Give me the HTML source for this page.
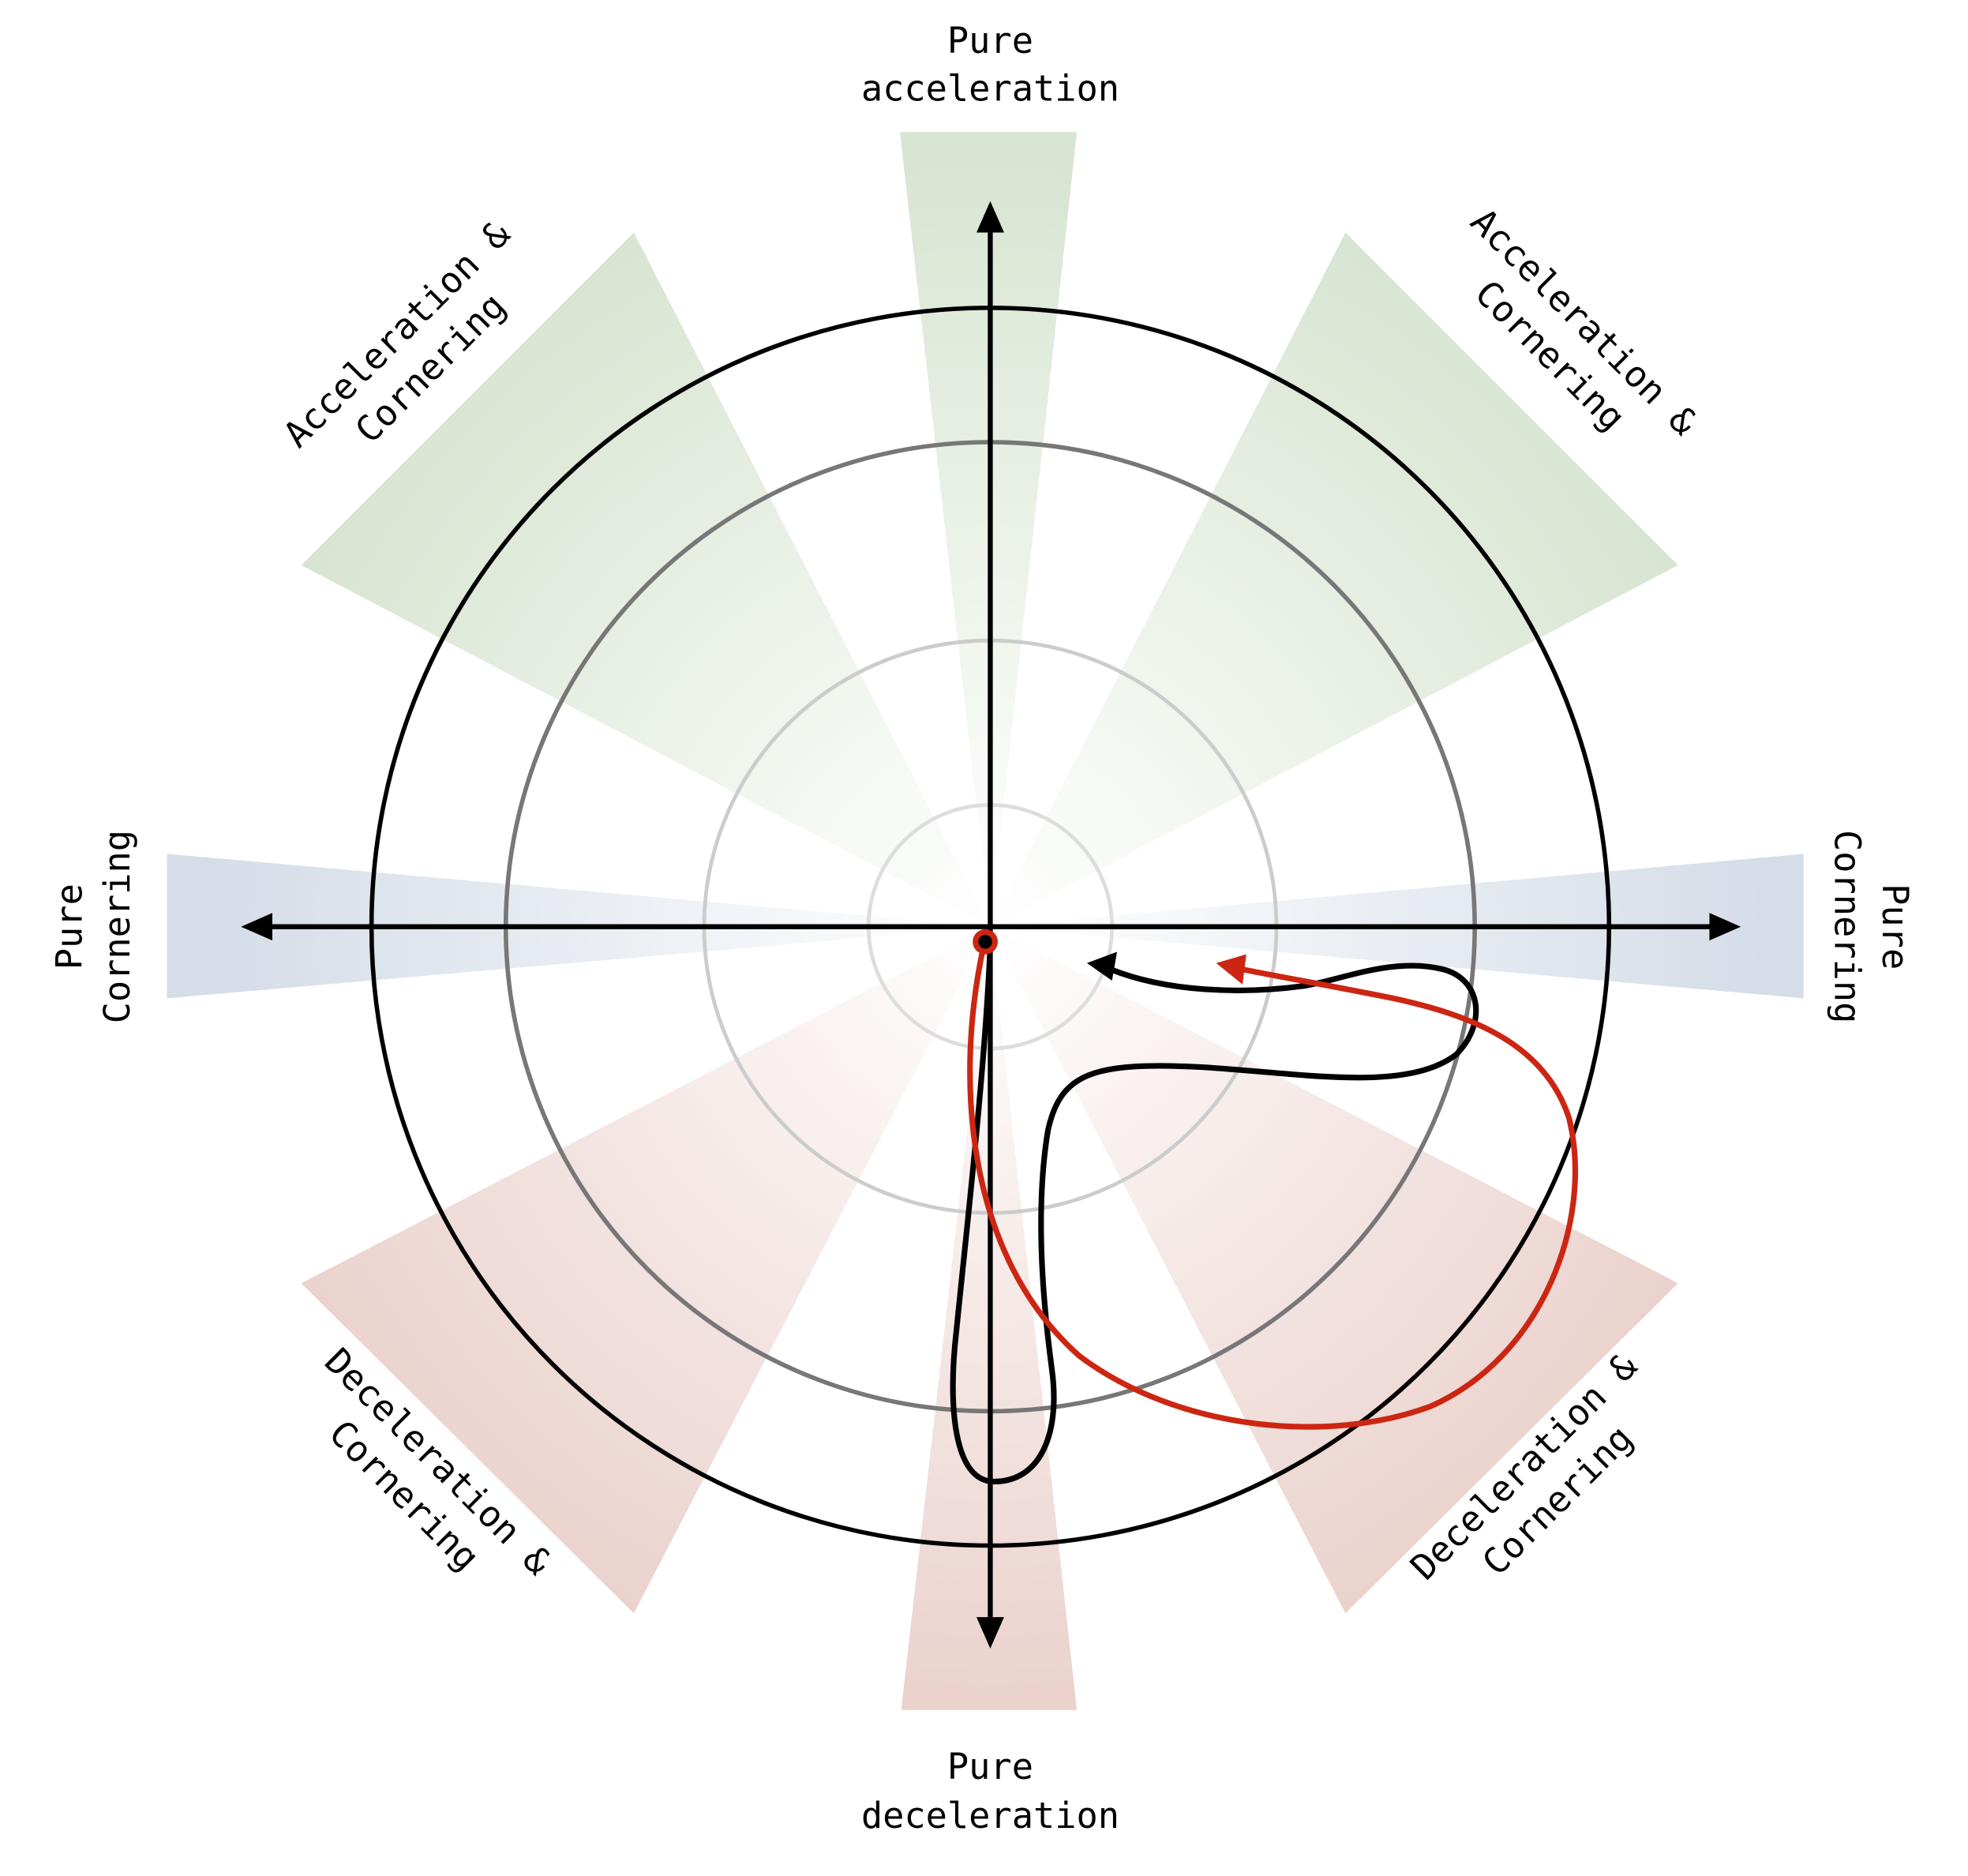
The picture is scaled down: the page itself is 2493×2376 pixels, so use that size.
<!DOCTYPE html>
<html><head><meta charset="utf-8"><style>html,body{margin:0;padding:0;background:#fff}svg{display:block}</style></head><body>
<svg width="2493" height="2376" viewBox="0 0 1568 1494" xmlns="http://www.w3.org/2000/svg" font-family="DejaVu Sans Mono, Liberation Mono, monospace" font-size="28.5" fill="#000">
<defs>
<radialGradient id="g" cx="789" cy="738" r="720" gradientUnits="userSpaceOnUse"><stop offset="0" stop-color="#d8e5d2" stop-opacity="0"/><stop offset="0.85" stop-color="#d8e5d2" stop-opacity="1"/></radialGradient>
<radialGradient id="b" cx="789" cy="738" r="650" gradientUnits="userSpaceOnUse"><stop offset="0" stop-color="#d5dde8" stop-opacity="0"/><stop offset="0.95" stop-color="#d5dde8" stop-opacity="1"/></radialGradient>
<radialGradient id="r" cx="789" cy="738" r="720" gradientUnits="userSpaceOnUse"><stop offset="0" stop-color="#ebd2cd" stop-opacity="0"/><stop offset="0.85" stop-color="#ebd2cd" stop-opacity="1"/></radialGradient>
</defs>
<polygon points="789,738 717,105 858,105" fill="url(#g)"/>
<polygon points="789,738 240,450 505,185" fill="url(#g)"/>
<polygon points="789,738 1072,185 1337,450" fill="url(#g)"/>
<polygon points="789,738 240,1022 505,1285" fill="url(#r)"/>
<polygon points="789,738 1337,1022 1072,1285" fill="url(#r)"/>
<polygon points="789,738 718,1362 858,1362" fill="url(#r)"/>
<polygon points="789,738 133,680 133,795" fill="url(#b)"/>
<polygon points="789,738 1437,680 1437,795" fill="url(#b)"/>
<circle cx="789" cy="738" r="493" fill="none" stroke="#000" stroke-width="3.5"/>
<circle cx="789" cy="738" r="386" fill="none" stroke="#777" stroke-width="3.5"/>
<circle cx="789" cy="738" r="228" fill="none" stroke="#ccc" stroke-width="3"/>
<circle cx="789" cy="738" r="97" fill="none" stroke="#ddd" stroke-width="3"/>
<line x1="789" y1="180" x2="789" y2="1295" stroke="#000" stroke-width="4"/>
<polygon points="789,160 778,185 800,185"/>
<polygon points="789,1313 778,1288 800,1288"/>
<line x1="210" y1="738" x2="1368" y2="738" stroke="#000" stroke-width="4"/>
<polygon points="192,738 217,727 217,749"/>
<polygon points="1387,738 1362,727 1362,749"/>
<path d="M789,752 C785,850 770,980 762,1060 C755,1120 760,1180 792,1180 C830,1180 845,1140 838,1090 C830,1030 825,960 835,900 C845,855 870,845 960,850 C1040,855 1120,870 1160,840 C1185,815 1180,780 1150,772 C1110,762 1070,780 1040,785 C990,792 930,790 885,772" fill="none" stroke="#000" stroke-width="4.5"/>
<polygon points="866,767 890,758 886,781"/>
<path d="M784,752 C760,860 770,1000 860,1080 C940,1140 1060,1150 1140,1120 C1230,1080 1270,970 1250,890 C1230,830 1170,808 1110,795 C1060,785 1020,778 990,772" fill="none" stroke="#cc2612" stroke-width="4.5"/>
<polygon points="969,767 993,760 990,784" fill="#cc2612"/>
<circle cx="785" cy="750" r="10" fill="#cc2612"/>
<circle cx="785" cy="750" r="5.5" fill="#000"/>
<g text-anchor="middle">
<text x="789" y="42">Pure</text><text x="789" y="80">acceleration</text>
<text x="789" y="1417">Pure</text><text x="789" y="1456">deceleration</text>
<g transform="translate(75,738) rotate(-90)"><text x="0" y="-10">Pure</text><text x="0" y="28">Cornering</text></g>
<g transform="translate(1490,738) rotate(90)"><text x="0" y="-10">Pure</text><text x="0" y="28">Cornering</text></g>
<g transform="translate(330,280) rotate(-45)"><text x="0" y="-10">Acceleration &amp;</text><text x="0" y="28">Cornering</text></g>
<g transform="translate(1248,270) rotate(45)"><text x="0" y="-10">Acceleration &amp;</text><text x="0" y="28">Cornering</text></g>
<g transform="translate(335,1178) rotate(45)"><text x="0" y="-10">Deceleration &amp;</text><text x="0" y="28">Cornering</text></g>
<g transform="translate(1228,1182) rotate(-45)"><text x="0" y="-10">Deceleration &amp;</text><text x="0" y="28">Cornering</text></g>
</g>
</svg>
</body></html>
